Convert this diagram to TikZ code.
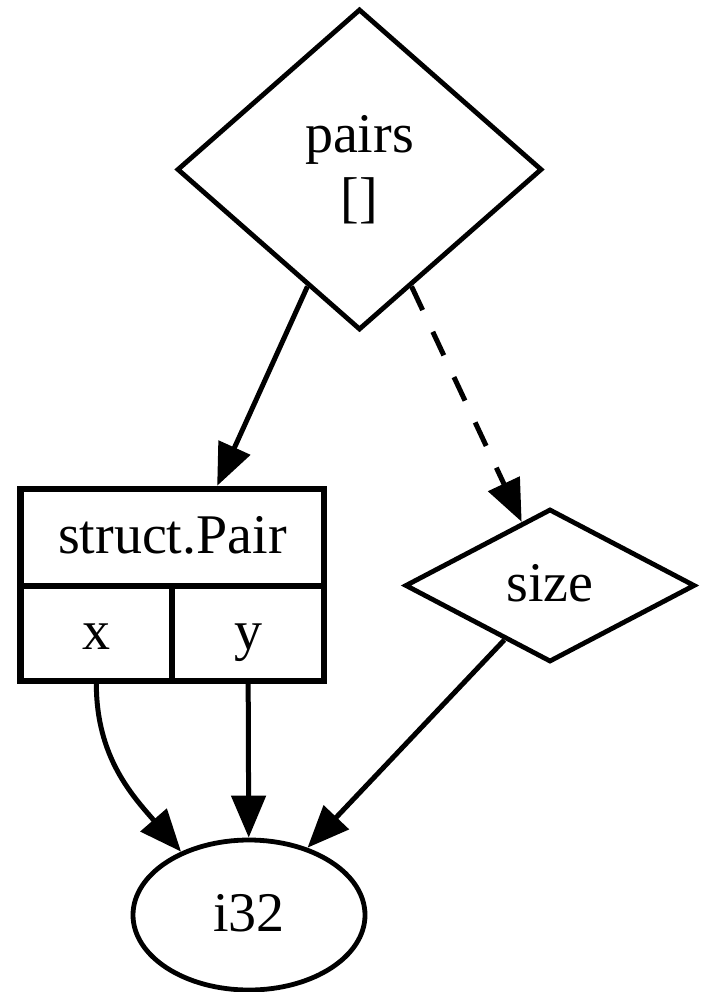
\documentclass[tikz,border=0pt]{standalone}
\usepackage{fontspec}
\setmainfont{Liberation Serif}
\usetikzlibrary{shapes.geometric,arrows.meta}
\begin{document}
\begin{tikzpicture}[x=0.25pt,y=-0.25pt,
  every node/.style={font=\fontsize{14}{16}\selectfont, inner sep=0pt},
  base/.style={draw=black, line width=1.2pt},
  decision/.style={base, diamond, text height=10pt, text depth=2pt},
  field/.style={draw=black, line width=1.6pt, rectangle, text height=10pt, text depth=2pt},
  typenode/.style={base, ellipse, text height=10pt, text depth=2pt},
  link/.style={line width=1.25pt, -{Triangle[length=10.5pt,width=8.5pt]}},
  weak/.style={link, dash pattern=on 6.5pt off 6pt}]
\useasboundingbox (0,0) rectangle (701,992);

% array node and its length
\node[base, diamond, minimum width=91.25pt, minimum height=80.25pt, align=center] (pairs) at (359.5,169.5) {pairs\\{[]}};
\node[decision, minimum width=72.5pt, minimum height=38.25pt] (size) at (550,585.5) {size};

% record: struct header with two fields
\node[field, minimum width=75.83pt, minimum height=24.18pt] (pair) at (172.35,537.35) {struct.Pair};
\node[field, minimum width=37.83pt, minimum height=23.75pt] (px) at (96.35,633.2) {x};
\node[field, minimum width=38pt, minimum height=23.75pt] (py) at (248,633.2) {y};

% scalar type
\node[typenode, minimum width=58pt, minimum height=37.5pt] (i32) at (249,915) {i32};

% edges
\draw[link] (pairs.246) -- (pair.49);
\draw[weak] (pairs.294) -- (size.114);
\draw[link] (px.south) to[out=-90, in=131] (i32.137);
\draw[link] (py) -- (i32);
\draw[link] (size.230) -- (i32.49);
\end{tikzpicture}
\end{document}
